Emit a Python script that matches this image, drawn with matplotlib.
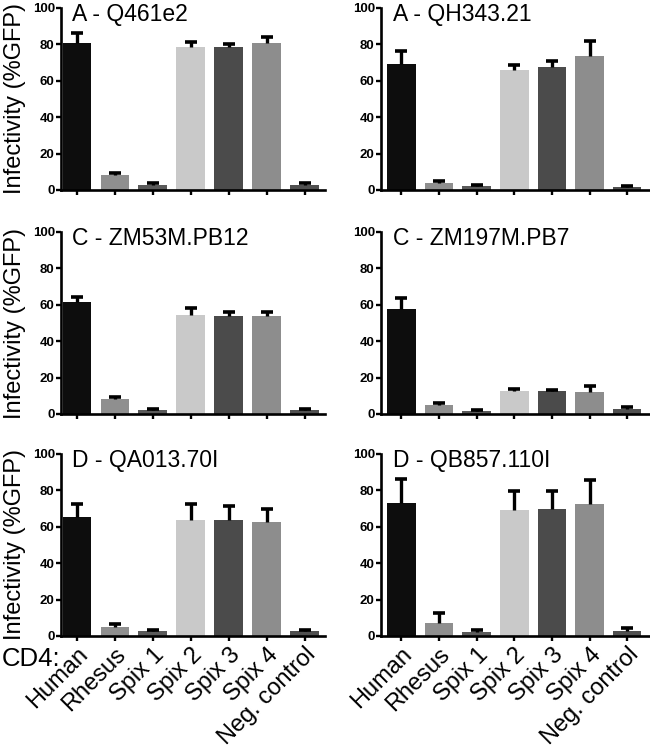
import matplotlib
matplotlib.use("Agg")
import matplotlib.pyplot as plt
import numpy as np

plt.rcParams['font.family'] = ['Liberation Sans', 'DejaVu Sans']

categories = ["Human", "Rhesus", "Spix 1", "Spix 2", "Spix 3", "Spix 4", "Neg. control"]
colors = ["#0d0d0d", "#8f8f8f", "#5a5a5a", "#c9c9c9", "#4b4b4b", "#8d8d8d", "#505050"]

titles = ["A - Q461e2", "A - QH343.21", "C - ZM53M.PB12", "C - ZM197M.PB7",
          "D - QA013.70I", "D - QB857.110I"]

q461e2_mean = [81.0, 8.4, 3.0, 78.4, 78.4, 80.6, 3.0]
q461e2_err = [5.5, 1.2, 0.8, 3.0, 2.0, 3.6, 0.6]
qh343_mean = [69.3, 4.0, 2.4, 66.0, 67.8, 73.7, 1.8]
qh343_err = [7.2, 0.8, 0.6, 2.8, 3.2, 8.0, 0.5]
zm53_mean = [61.3, 8.3, 2.2, 54.5, 53.6, 53.9, 2.2]
zm53_err = [3.0, 0.8, 0.6, 3.8, 2.5, 2.2, 0.4]
zm197_mean = [57.6, 5.0, 1.8, 12.8, 12.4, 12.0, 2.9]
zm197_err = [6.2, 1.0, 0.3, 1.2, 0.9, 3.3, 1.0]
qa013_mean = [65.5, 5.2, 2.7, 63.6, 63.6, 62.9, 2.7]
qa013_err = [7.0, 1.5, 0.6, 9.2, 8.0, 7.0, 0.4]
qb857_mean = [73.3, 7.3, 2.3, 69.5, 69.9, 72.5, 2.7]
qb857_err = [13.0, 5.2, 1.2, 10.0, 9.6, 13.0, 1.5]

means = [q461e2_mean, qh343_mean, zm53_mean, zm197_mean, qa013_mean, qb857_mean]
errs = [q461e2_err, qh343_err, zm53_err, zm197_err, qa013_err, qb857_err]

yticks = [0, 20, 40, 60, 80, 100]

W, H = 650, 748
fig = plt.figure(figsize=(W / 100, H / 100), dpi=100)

col_x = [(61, 325), (381, 649)]
row_y = [(8, 190), (232, 414), (454, 636)]
xlims = [(-0.42, 6.53), (-0.54, 6.58)]

x = np.arange(len(categories))
for i in range(6):
    r, c = divmod(i, 2)
    x0, x1 = col_x[c]
    y0, y1 = row_y[r]
    ax = fig.add_axes([x0 / W, 1 - y1 / H, (x1 - x0) / W, (y1 - y0) / H])
    ax.bar(x, means[i], width=0.76, color=colors, edgecolor='none', zorder=2)
    eb = ax.errorbar(x, means[i], yerr=[np.zeros(len(x)), errs[i]], fmt='none',
                     ecolor='black', elinewidth=2.4, capsize=4.5, capthick=2.6, zorder=3)
    eb[1][0].set_visible(False)
    ax.set_xlim(*xlims[c])
    ax.set_ylim(0, 100)
    ax.set_yticks(yticks)
    ax.set_xticks(x)
    for s in ['top', 'right']:
        ax.spines[s].set_visible(False)
    for s in ['left', 'bottom']:
        ax.spines[s].set_linewidth(1.9)
    ax.tick_params(axis='both', direction='out', length=3.5, width=1.7)
    ax.tick_params(axis='y', labelsize=9.5, pad=1)
    for lab in ax.get_yticklabels():
        lab.set_fontweight('bold')
    if r == 2:
        ax.set_xticklabels(categories, fontsize=17, rotation=45, ha='right',
                           rotation_mode='anchor')
        ax.tick_params(axis='x', pad=2)
    else:
        ax.set_xticklabels([])
    ax.text(0.04 if c == 0 else 0.045, 0.93, titles[i], transform=ax.transAxes,
            fontsize=16.5, ha='left', va='baseline')
    if c == 0:
        fig.text(15 / W, 1 - (y0 + y1) / 2 / H, "Infectivity (%GFP)", rotation=90,
                 fontsize=17, ha='center', va='center')

fig.text(2 / W, 1 - 666 / H, "CD4:", fontsize=18.5, ha='left', va='baseline')

fig.savefig("out.png", dpi=100)
